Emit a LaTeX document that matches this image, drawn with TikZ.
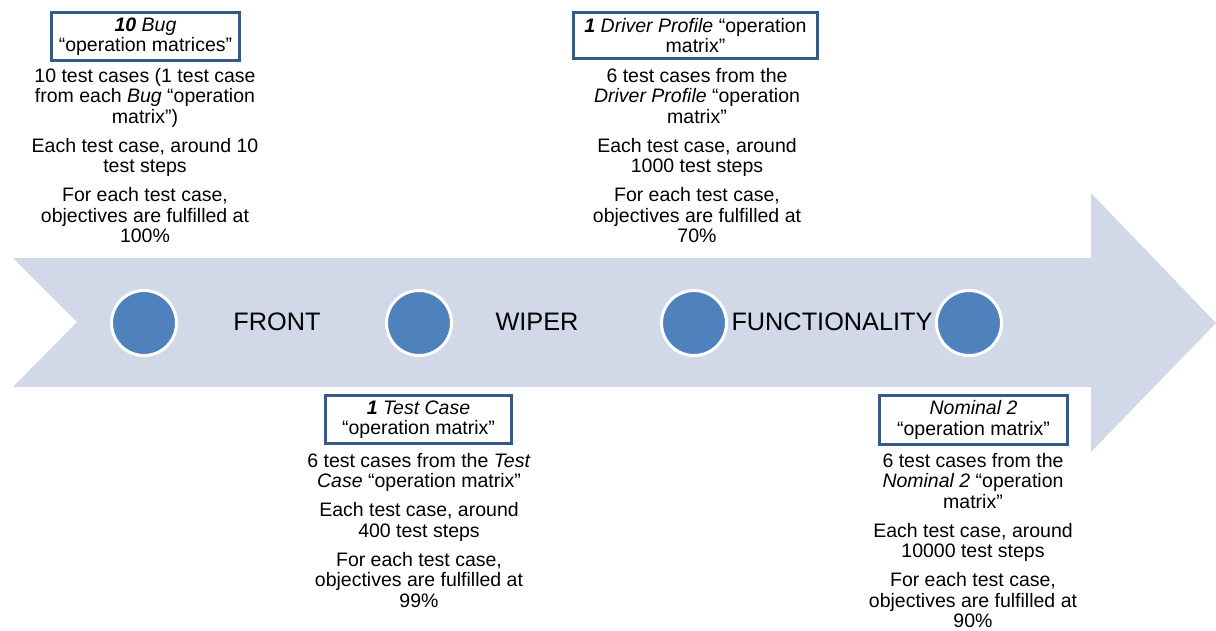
\documentclass[tikz,border=0pt]{standalone}
\usepackage{fontspec}
\setmainfont{Liberation Sans}
\definecolor{arrowfill}{RGB}{209,216,231}
\definecolor{dotfill}{RGB}{79,129,189}
\definecolor{boxline}{RGB}{56,90,135}
\begin{document}
\begin{tikzpicture}[x=1pt,y=-1pt,
  txt/.style={font=\fontsize{19.5}{20.5}\selectfont, align=center, inner sep=0pt},
  titlebox/.style={txt, draw=boxline, line width=3pt},
  dot/.style={circle, fill=dotfill, draw=white, line width=3pt, minimum size=65pt, inner sep=0pt},
  lbl/.style={font=\fontsize{25.3}{28}\selectfont, inner sep=0pt, anchor=base}]
\useasboundingbox (0,0) rectangle (1216,630);
% big arrow
\fill[arrowfill] (13,258) -- (1091,258) -- (1091,193) -- (1216,323) -- (1091,452) -- (1091,387) -- (13,387) -- (77,322) -- cycle;
% dots
\node[dot] (c1) at (144,323) {};
\node[dot] (c2) at (419,323) {};
\node[dot] (c3) at (694,323) {};
\node[dot] (c4) at (969,323) {};
% labels
\node[lbl] (l1) at (277,330) {FRONT};
\node[lbl] (l2) at (537,330) {WIPER};
\node[lbl] (l3) at (832,330) {FUNCTIONALITY};
% boxes
\node[titlebox, minimum width=188pt, minimum height=48pt] (b1) at (145.5,36.5) {\textbf{\textit{10}} \textit{Bug}\\“operation matrices”};
\node[titlebox, minimum width=244pt, minimum height=46pt] (b2) at (695.5,35.5) {\textbf{\textit{1}} \textit{Driver Profile} “operation\\matrix”};
\node[titlebox, minimum width=186pt, minimum height=48pt] (b3) at (418.5,419.5) {\textbf{\textit{1}} \textit{Test Case}\\“operation matrix”};
\node[titlebox, minimum width=188pt, minimum height=49pt] (b4) at (973.5,420) {\textit{Nominal 2}\\“operation matrix”};
% descriptions
\node[txt, anchor=north] (t1) at (145,67.7) {10 test cases (1 test case\\from each \textit{Bug} “operation\\matrix”)\\[8.5pt]Each test case, around 10\\test steps\\[8.5pt]For each test case,\\objectives are fulfilled at\\100\%};
\node[txt, anchor=north] (t2) at (697,67.7) {6 test cases from the\\\textit{Driver Profile} “operation\\matrix”\\[8.5pt]Each test case, around\\1000 test steps\\[8.5pt]For each test case,\\objectives are fulfilled at\\70\%};
\node[txt, anchor=north] (t3) at (419,452.7) {6 test cases from the \textit{Test}\\\textit{Case} “operation matrix”\\[8.5pt]Each test case, around\\400 test steps\\[8.5pt]For each test case,\\objectives are fulfilled at\\99\%};
\node[txt, anchor=north] (t4) at (973,452.7) {6 test cases from the\\\textit{Nominal 2} “operation\\matrix”\\[8.5pt]Each test case, around\\10000 test steps\\[8.5pt]For each test case,\\objectives are fulfilled at\\90\%};
\end{tikzpicture}
\end{document}
